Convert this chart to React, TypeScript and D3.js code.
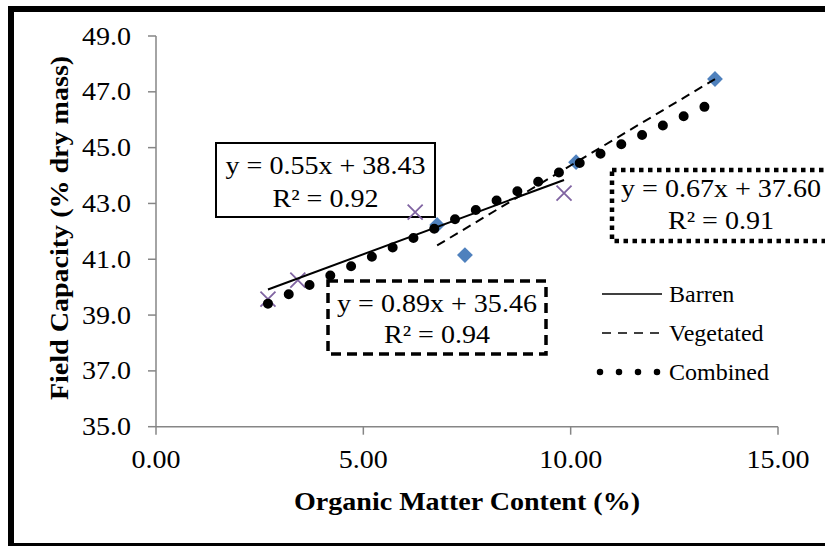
import { useMemo } from "react";
import * as d3 from "d3";

// data
const barrenX = [2.7, 3.42, 6.25, 9.84];
const barrenY = [39.57, 40.25, 42.69, 43.37];
const vegetatedX = [6.78, 7.45, 10.13, 13.48];
const vegetatedY = [42.23, 41.15, 44.48, 47.46];

// trendline equations (slope, intercept) as printed on the chart
const barrenFit = [0.55, 38.43];
const vegetatedFit = [0.89, 35.46];
const combinedFit = [0.67, 37.6];

const xTicks = [0, 5, 10, 15];
const yTicks = [35, 37, 39, 41, 43, 45, 47, 49];

const legendLabels = ["Barren", "Vegetated", "Combined"];

const W = 825;
const H = 546;
const FONT = "'Liberation Serif', 'Times New Roman', serif";
const AXIS = "#868686";
const PURPLE = "#8064A2";
const BLUE = "#4F81BD";
const SX = 1.1; // the source text is a little wider than plain Times

// text stretched horizontally around its anchor point
function T({ x, y, size = 25.5, anchor = "middle", bold = false, rotate = 0, children }: any) {
  return (
    <text
      transform={`translate(${x},${y}) rotate(${rotate}) scale(${SX},1)`}
      textAnchor={anchor}
      fontFamily={FONT}
      fontSize={size}
      fontWeight={bold ? "bold" : "normal"}
      fill="#000"
    >
      {children}
    </text>
  );
}

export default function App() {
  const x = useMemo(() => d3.scaleLinear().domain([0, 15]).range([156, 778]), []);
  const y = useMemo(() => d3.scaleLinear().domain([35, 49]).range([426.7, 36]), []);

  const fitLine = (fit: number[], xs: number[]) => {
    const ext = d3.extent(xs) as [number, number];
    return d3.line<number>()
      .x((d) => x(d))
      .y((d) => y(fit[0] * d + fit[1]))(ext) as string;
  };

  const barren = barrenX.map((v, i) => ({ x: v, y: barrenY[i] }));
  const vegetated = vegetatedX.map((v, i) => ({ x: v, y: vegetatedY[i] }));
  const allX = [...barrenX, ...vegetatedX];

  const diamond = d3.symbol(d3.symbolDiamond2, 160)() as string;

  return (
    <div style={{ position: "fixed", left: 0, top: 0 }}>
      <svg width={W} height={H} style={{ display: "block", background: "#fff" }}>
        {/* outer frame, right edge falls outside the picture */}
        <rect x={11} y={9} width={830} height={537} fill="none" stroke="#000" strokeWidth={6} />

        {/* y axis */}
        <line x1={x(0)} x2={x(0)} y1={y(35)} y2={y(49)} stroke={AXIS} strokeWidth={1.5} />
        {yTicks.map((t) => (
          <g key={t}>
            <line x1={x(0) - 8} x2={x(0)} y1={y(t)} y2={y(t)} stroke={AXIS} strokeWidth={1.5} />
            <T x={131} y={y(t) + 8.5} anchor="end">
              {t.toFixed(1)}
            </T>
          </g>
        ))}

        {/* x axis */}
        <line x1={x(0)} x2={x(15)} y1={y(35)} y2={y(35)} stroke={AXIS} strokeWidth={1.5} />
        {xTicks.map((t) => (
          <g key={t}>
            <line x1={x(t)} x2={x(t)} y1={y(35)} y2={y(35) + 8} stroke={AXIS} strokeWidth={1.5} />
            <T x={x(t)} y={468}>
              {t.toFixed(2)}
            </T>
          </g>
        ))}

        {/* axis titles */}
        <T x={467} y={510} bold>
          Organic Matter Content  (%)
        </T>
        <T x={68} y={228} bold rotate={-90}>
          Field Capacity (% dry mass)
        </T>

        {/* equation boxes (under the markers) */}
        <rect x={216} y={143} width={219} height={74} fill="#fff" stroke="#000" strokeWidth={2} />
        <T x={325.5} y={174}>y = 0.55x + 38.43</T>
        <T x={325.5} y={207}>R² = 0.92</T>

        <rect x={328} y={281} width={218} height={73} fill="#fff" stroke="#000" strokeWidth={3.5} strokeDasharray="10 6" />
        <T x={437} y={312}>y = 0.89x + 35.46</T>
        <T x={437} y={343}>R² = 0.94</T>

        <rect x={612} y={170} width={220} height={71} fill="#fff" stroke="#000" strokeWidth={4.5} strokeDasharray="4.5 4.5" />
        <T x={721} y={197}>y = 0.67x + 37.60</T>
        <T x={721} y={229}>R² = 0.91</T>

        {/* markers */}
        {vegetated.map((d, i) => (
          <path key={"v" + i} d={diamond} transform={`translate(${x(d.x)},${y(d.y)})`} fill={BLUE} />
        ))}
        {barren.map((d, i) => (
          <path
            key={"b" + i}
            d="M-7.5,-7.5L7.5,7.5M-7.5,7.5L7.5,-7.5"
            transform={`translate(${x(d.x)},${y(d.y)})`}
            stroke={PURPLE}
            strokeWidth={1.8}
            fill="none"
          />
        ))}

        {/* trendlines */}
        <path d={fitLine(barrenFit, barrenX)} stroke="#000" strokeWidth={2} fill="none" />
        <path d={fitLine(vegetatedFit, vegetatedX)} stroke="#000" strokeWidth={2} strokeDasharray="9 6" fill="none" />
        <path
          d={fitLine(combinedFit, allX)}
          stroke="#000"
          strokeWidth={10}
          strokeLinecap="round"
          strokeDasharray="0 22.8"
          fill="none"
        />

        {/* legend */}
        {legendLabels.map((label, i) => {
          const ly = 294 + i * 39;
          return (
            <g key={label}>
              {i === 0 && <line x1={602} x2={662} y1={ly} y2={ly} stroke="#000" strokeWidth={1.6} />}
              {i === 1 && <line x1={602} x2={662} y1={ly} y2={ly} stroke="#000" strokeWidth={1.6} strokeDasharray="9 7" />}
              {i === 2 && (
                <line x1={600} x2={658} y1={ly} y2={ly} stroke="#000" strokeWidth={6.5} strokeLinecap="round" strokeDasharray="0 19" />
              )}
              <text x={669} y={ly} dy="0.33em" fontFamily={FONT} fontSize={24}>
                {label}
              </text>
            </g>
          );
        })}
      </svg>
    </div>
  );
}
